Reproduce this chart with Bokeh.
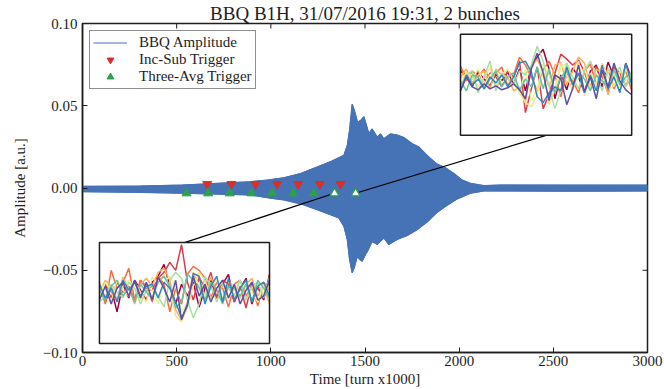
import math

from bokeh.plotting import figure
from bokeh.models import Range1d, Legend, LegendItem
from bokeh.embed import file_html
from bokeh.resources import INLINE

TITLE = "BBQ B1H, 31/07/2016 19:31, 2 bunches"
X_LABEL = "Time [turn x1000]"
Y_LABEL = "Amplitude [a.u.]"
X_TICKS = [0, 500, 1000, 1500, 2000, 2500, 3000]
Y_TICKS = [-0.10, -0.05, 0.00, 0.05, 0.10]
Y_TICK_LABELS = ["\u22120.10", "\u22120.05", "0.00", "0.05", "0.10"]

# Envelope of the BBQ amplitude signal (turn x1000 vs a.u.)
env_upper_turns = [0, 308, 531, 892, 981, 1069, 1158, 1246, 1317, 1352, 1388, 1406,
                   1418, 1432, 1444, 1460, 1476, 1494, 1508, 1520, 1538, 1565, 1582,
                   1600, 1635, 1671, 1706, 1751, 1786, 1821, 1848, 1883, 1927, 1972,
                   2016, 2060, 2131, 2220, 2600, 3000]
env_upper = [0.0010, 0.0012, 0.0018, 0.0038, 0.0048, 0.0062, 0.0088, 0.0128, 0.0160,
             0.0179, 0.0199, 0.0259, 0.0350, 0.0509, 0.0470, 0.0400, 0.0410, 0.0433,
             0.0380, 0.0331, 0.0359, 0.0309, 0.0329, 0.0299, 0.0329, 0.0322, 0.0307,
             0.0269, 0.0249, 0.0209, 0.0179, 0.0145, 0.0123, 0.0088, 0.0048, 0.0028,
             0.0014, 0.0018, 0.0017, 0.0017]
env_lower_turns = [0, 308, 531, 892, 998, 1069, 1158, 1246, 1317, 1361, 1388, 1406,
                   1418, 1432, 1444, 1459, 1471, 1485, 1503, 1513, 1538, 1565, 1600,
                   1626, 1671, 1724, 1777, 1830, 1880, 1930, 1990, 2060, 2131, 2600,
                   3000]
env_lower = [-0.0022, -0.0026, -0.0032, -0.0042, -0.0062, -0.0072, -0.0096, -0.0132,
             -0.0163, -0.0182, -0.0233, -0.0313, -0.0433, -0.0515, -0.0480, -0.0415,
             -0.0433, -0.0445, -0.0403, -0.0385, -0.0325, -0.0343, -0.0304, -0.0343,
             -0.0313, -0.0289, -0.0253, -0.0207, -0.0151, -0.0110, -0.0066, -0.0032,
             -0.0018, -0.0019, -0.0018]

# Trigger detections
inc_sub_turns = [662, 791, 919, 1034, 1145, 1260, 1370]
inc_sub_amp = [0.0024, 0.0024, 0.0024, 0.0024, 0.0024, 0.0024, 0.0024]
three_avg_turns = [552, 667, 782, 896, 1007, 1119, 1228]
three_avg_amp = [-0.0032, -0.0032, -0.0032, -0.0032, -0.0032, -0.0032, -0.0032]
# Trigger points shown in the zoomed insets (bottom-left, top-right)
zoom_turns = [1338, 1450]
zoom_amp = [-0.0032, -0.0032]

# Turn-by-turn traces of the individual pick-up samples around each zoom point
inset_turn = list(range(30))
bunch_colors = ["#9e0142", "#d53e4f", "#f46d43", "#fdae61", "#fee08b",
                "#e6f598", "#abdda4", "#66c2a5", "#3288bd", "#5e4fa2"]

top_traces = [
    [1.0, 0.4, -0.6, 0.9, 0.2, -0.5, 0.7, 0.0, 0.9, -0.3, 1.2, -1.0, 1.4, 2.4, 3.2, 1.2, -1.8, 0.6, -0.9, 1.3, 0.4, -1.2, 1.0, 1.6, -0.6, 1.9, 0.4, -1.0, 1.8, 0.2],
    [1.2, 0.6, 0.2, 1.0, -0.4, 0.8, 0.4, -0.6, 1.0, 0.4, 2.0, -3.2, -0.8, 1.4, -2.8, -1.4, 0.8, 2.7, 2.2, 1.6, 2.1, 0.9, -0.8, 1.5, 0.5, -1.2, 1.4, 0.8, -0.5, 0.6],
    [1.5, 0.0, 1.0, 0.4, 1.2, 0.2, 0.8, 1.4, -0.5, 0.6, 2.4, 1.6, 0.4, -1.0, 1.1, 2.0, 0.6, -1.6, 0.8, 0.0, -1.2, 1.0, 1.7, -0.4, 0.6, 1.2, -0.8, 0.4, 1.0, -1.0],
    [0.4, 1.2, -0.2, 0.6, 1.0, -0.8, 1.2, 0.6, 0.4, -1.0, -0.6, -2.2, 1.4, 2.2, 0.9, -0.6, 1.6, 1.9, -0.4, 1.0, 2.4, 1.8, -0.6, 1.2, 0.8, -1.4, 1.0, 0.2, 1.2, 0.4],
    [0.2, 0.8, 0.6, -0.6, 0.4, 1.3, -0.4, 0.6, 1.2, 0.0, -1.2, -2.2, -2.6, -1.4, 0.9, -2.4, -0.8, 1.8, 0.6, -1.0, 2.0, -1.5, 0.8, -0.4, 1.8, 0.4, -0.6, 1.0, 0.0, 0.8],
    [-0.6, 0.8, 0.2, 1.2, -0.4, 0.6, 1.0, -0.2, 0.4, 0.8, -1.4, 1.2, -2.0, -0.8, 1.8, 0.6, -1.2, 1.4, 1.8, -0.6, 0.4, 1.3, -0.8, 0.6, -0.2, 1.0, 0.6, -0.8, 1.2, 0.0],
    [-0.4, 0.6, 1.0, -1.2, 0.4, 2.0, -1.0, 0.8, 0.2, -0.4, 1.0, 0.6, 1.6, 3.5, 2.0, -0.6, -2.8, -1.0, 1.8, 0.4, -0.8, 1.0, 2.0, 0.6, -1.0, 1.2, 0.4, 1.4, -0.6, 0.8],
    [0.0, -1.0, 0.6, 0.4, -0.8, 0.2, 1.0, -0.6, 0.4, 0.8, -1.0, 0.2, -0.6, 1.4, -0.8, 1.2, -1.2, 0.4, 1.0, -0.4, 0.8, 0.2, -1.0, 0.6, 0.0, -0.6, 1.2, -0.4, 0.4, 0.8],
    [-1.0, 0.6, -0.4, 0.2, -0.8, 0.4, -0.2, 0.6, -0.6, 0.4, 1.8, 2.0, 0.9, -1.6, -2.2, -1.2, -0.6, -1.0, 1.4, -0.4, 0.8, -1.2, 0.6, -1.0, 1.6, -0.8, 0.4, -1.2, 1.8, -0.4],
    [-1.0, 0.4, -0.6, -0.9, -0.3, -0.8, -0.5, -0.9, -0.7, -0.3, -0.9, -1.8, 1.2, 2.8, 0.8, -2.0, 0.6, 0.2, -2.4, -0.8, 1.6, -1.1, 0.4, -1.8, 1.1, -0.6, 1.8, 0.0, -0.9, -1.4],
]
bottom_traces = [
    [0.6, -1.0, 0.4, -2.0, 0.8, -0.6, 1.2, 0.2, -0.8, 1.0, 1.6, 2.8, 0.6, -1.2, 0.8, -0.4, 1.0, -1.5, 0.4, 1.2, -0.6, 0.8, 1.8, -1.0, 0.4, 1.4, -1.2, 0.6, -0.8, 1.8],
    [0.4, 0.8, -0.6, 1.0, 0.0, 0.6, -0.8, 1.2, 0.4, 0.2, 1.4, 2.0, 3.0, 2.2, 4.8, 1.0, -0.8, 1.5, 0.4, 2.0, -0.6, 1.2, 0.8, -1.0, 0.6, -1.6, 1.0, 0.4, -0.6, 1.2],
    [1.0, -1.2, 2.2, 0.4, 1.0, 2.4, -0.8, 1.2, 0.6, -1.0, 1.6, 0.8, -2.0, 0.4, -1.2, 1.8, 2.6, 2.2, 1.4, -0.6, 1.0, 0.4, -1.5, 0.8, 1.2, -0.4, 0.6, -1.4, 1.0, 0.2],
    [0.0, 1.2, 0.6, -0.8, 1.5, 0.4, -1.2, 0.8, 1.4, 0.6, 2.0, 2.4, 1.2, -1.8, -2.8, -1.0, 2.0, 0.6, -0.4, 1.5, 0.2, -1.0, 1.2, 0.4, -0.6, 0.8, 1.4, -0.4, 0.6, -1.2],
    [0.8, 0.4, -1.0, 1.2, 0.2, -0.4, 1.0, 0.0, -1.0, 1.5, 0.8, 1.8, 0.4, -2.4, -3.0, -1.6, 0.6, 2.0, 1.2, -0.8, 0.4, 1.0, -0.6, 0.2, 1.2, -0.8, 0.4, 0.8, -0.2, 0.6],
    [-0.6, 1.0, 0.2, -0.4, 0.6, 1.2, 0.4, -0.8, 0.6, 0.2, -1.2, 1.0, 1.6, 0.6, -2.0, -1.2, 1.5, 0.8, -0.4, 0.6, 1.2, -0.6, 0.2, 0.8, -0.4, 1.0, 0.0, -1.0, 0.8, 0.4],
    [-1.0, -0.4, 0.8, 0.0, -0.6, 1.0, 0.4, -1.2, 0.2, 0.8, -0.4, -1.5, 1.2, 2.0, 1.4, -0.8, -2.6, -1.2, 1.6, 0.6, -1.0, 0.8, 0.4, -0.4, 1.2, -0.8, 0.6, 1.0, -0.6, 1.5],
    [0.2, -0.8, 0.6, 1.2, -0.4, 0.4, -1.0, 0.8, 0.0, -0.6, 1.0, 1.6, 0.6, -1.6, -1.0, 1.8, 1.2, 0.4, -0.8, 1.0, 0.2, -1.2, 0.6, 0.4, -0.4, 0.8, -1.0, 1.2, 0.4, -0.6],
    [0.8, -0.6, 0.4, -1.0, 1.2, 0.2, 1.0, -0.4, 0.6, 0.8, -0.6, 1.0, 0.4, -1.0, -2.6, -1.4, 1.9, 1.6, -1.2, 0.6, 1.6, -1.0, 1.4, -0.8, 0.4, 1.2, -1.0, 0.6, 1.0, -0.4],
    [-0.8, 0.6, -1.2, 0.4, 1.0, -0.4, 1.2, -0.6, 1.0, -0.8, 1.5, 0.4, -1.0, 1.2, -2.8, -1.2, 1.6, -0.4, 0.8, -1.0, 0.4, 1.2, -0.6, 0.8, -1.2, 0.2, 1.0, -0.8, -0.4, 1.2],
]

FONT = "Liberation Serif"
INK = "#1e1e1e"
BLUE = "#4673b5"
RED = "#d7302a"
GREEN = "#2ca04c"

X_LIM = (0, 3000)
Y_LIM = (-0.10, 0.10)

p = figure(width=664, height=389, x_range=Range1d(*X_LIM), y_range=Range1d(*Y_LIM),
           output_backend="svg", toolbar_location=None,
           min_border_left=82, min_border_right=17, min_border_top=22,
           min_border_bottom=35, background_fill_color="white",
           border_fill_color="white")
p.title.text = TITLE
p.title.text_font = FONT
p.title.text_font_size = "19px"
p.title.text_font_style = "normal"
p.title.text_color = INK
p.title.align = "center"
p.title.standoff = 0
p.title.offset = 0
p.xgrid.visible = False
p.ygrid.visible = False
p.outline_line_color = INK
p.outline_line_width = 1.5


def style_axis(ax, ticks):
    ax.ticker = ticks
    ax.major_tick_in = 5
    ax.major_tick_out = 0
    ax.minor_tick_in = 0
    ax.minor_tick_out = 0
    ax.axis_line_color = INK
    ax.axis_line_width = 1.5
    ax.major_tick_line_color = INK
    ax.major_tick_line_width = 1
    ax.major_label_text_font = FONT
    ax.major_label_text_color = INK
    ax.major_label_text_font_size = "15px"
    ax.axis_label_text_font = FONT
    ax.axis_label_text_font_style = "normal"
    ax.axis_label_text_color = INK
    ax.axis_label_text_font_size = "15px"


style_axis(p.xaxis[0], X_TICKS)
style_axis(p.yaxis[0], Y_TICKS)
p.xaxis.axis_label = X_LABEL
p.yaxis.axis_label = Y_LABEL
p.xaxis.major_label_standoff = 3
p.xaxis.axis_label_standoff = 2
p.yaxis.major_label_standoff = 5
p.yaxis.axis_label_standoff = 12
p.yaxis.major_label_overrides = dict(zip(Y_TICKS, Y_TICK_LABELS))

# Inward ticks mirrored on the top and right frame edges (half of each dash is clipped)
p.scatter(X_TICKS, [Y_LIM[1]] * len(X_TICKS), marker="dash", size=10,
          angle=math.pi / 2, line_color=INK, line_width=1)
p.scatter([X_LIM[1]] * len(Y_TICKS), Y_TICKS, marker="dash", size=10,
          line_color=INK, line_width=1)

# Filled signal envelope
poly_x = env_upper_turns + env_lower_turns[::-1]
poly_y = env_upper + env_lower[::-1]
p.patch(poly_x, poly_y, fill_color=BLUE, line_color=BLUE, line_width=1)
amp_line = p.line(env_upper_turns, env_upper, line_color=BLUE, line_width=1.2)
p.line(env_lower_turns, env_lower, line_color=BLUE, line_width=1.2)


# Inset placement as fractions of the main frame, with the inset data limits
def inset_range(lo, hi, f0, f1):
    span = (hi - lo) / (f1 - f0)
    start = lo - f0 * span
    return Range1d(start, start + span)


insets = [
    dict(name="bot", traces=bottom_traces, xfrac=(0.030, 0.331), yfrac=(0.027, 0.334),
         ylim=(-5.2, 5.0), anchor_side=1),
    dict(name="top", traces=top_traces, xfrac=(0.669, 0.972), yfrac=(0.660, 0.967),
         ylim=(-5.5, 4.7), anchor_side=0),
]
x_lim_inset = (inset_turn[0], inset_turn[-1])

# Connector lines from each inset to its trigger point
for k, ins in enumerate(insets):
    fx = 0.5 * (ins["xfrac"][0] + ins["xfrac"][1])
    fy = ins["yfrac"][ins["anchor_side"]]
    ax_x = X_LIM[0] + fx * (X_LIM[1] - X_LIM[0])
    ax_y = Y_LIM[0] + fy * (Y_LIM[1] - Y_LIM[0])
    p.line([ax_x, zoom_turns[k]], [ax_y, zoom_amp[k]], line_color="black", line_width=1.2)

inc = p.scatter(inc_sub_turns, inc_sub_amp, marker="inverted_triangle", size=9,
                fill_color=RED, line_color=RED)
three = p.scatter(three_avg_turns, three_avg_amp, marker="triangle", size=9,
                  fill_color=GREEN, line_color=GREEN)
p.scatter(zoom_turns, zoom_amp, marker="triangle", size=9,
          fill_color="white", line_color=GREEN, line_width=1.3)

for ins in insets:
    xr, yr = "x_" + ins["name"], "y_" + ins["name"]
    p.extra_x_ranges[xr] = inset_range(x_lim_inset[0], x_lim_inset[1], *ins["xfrac"])
    p.extra_y_ranges[yr] = inset_range(ins["ylim"][0], ins["ylim"][1], *ins["yfrac"])
    p.quad(left=[x_lim_inset[0]], right=[x_lim_inset[1]], bottom=[ins["ylim"][0]],
           top=[ins["ylim"][1]], fill_color="white", line_color=None,
           x_range_name=xr, y_range_name=yr)
    for trace, color in zip(ins["traces"], bunch_colors):
        p.line(inset_turn, trace, line_color=color, line_width=1.5,
               x_range_name=xr, y_range_name=yr)
    p.quad(left=[x_lim_inset[0]], right=[x_lim_inset[1]], bottom=[ins["ylim"][0]],
           top=[ins["ylim"][1]], fill_color=None, line_color=INK, line_width=1.5,
           x_range_name=xr, y_range_name=yr)

legend = Legend(items=[
    LegendItem(label="BBQ Amplitude", renderers=[amp_line]),
    LegendItem(label="Inc-Sub Trigger", renderers=[inc]),
    LegendItem(label="Three-Avg Trigger", renderers=[three]),
], location="top_left")
legend.margin = 7
legend.padding = 3
legend.spacing = 0
legend.glyph_width = 34
legend.glyph_height = 17
legend.label_height = 17
legend.label_standoff = 12
legend.label_text_font = FONT
legend.label_text_font_size = "15px"
legend.label_text_color = INK
legend.border_line_color = INK
legend.border_line_width = 1.5
legend.background_fill_color = "white"
legend.background_fill_alpha = 1
p.add_layout(legend)

open("out.html", "w").write(file_html(p, INLINE))
